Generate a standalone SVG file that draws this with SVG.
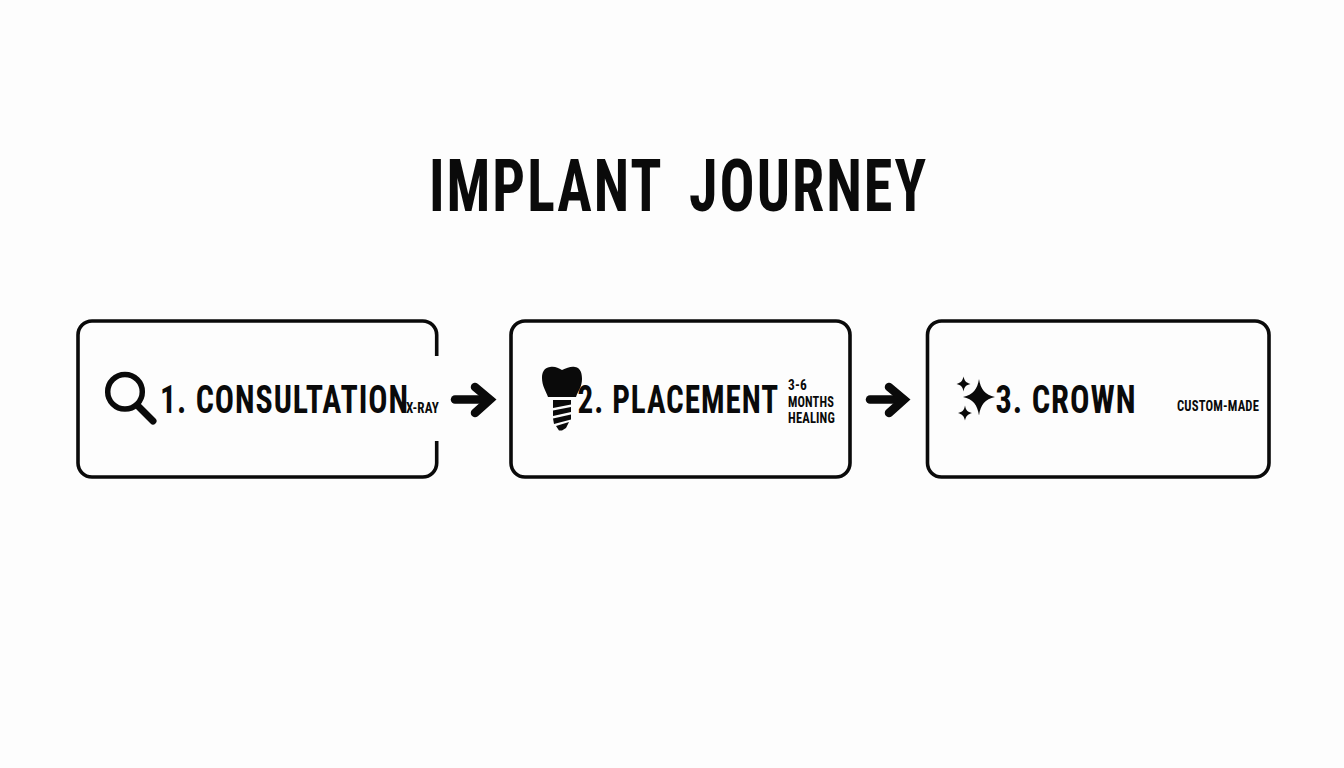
<svg xmlns="http://www.w3.org/2000/svg" width="1344" height="768" viewBox="0 0 1344 768">
<style>
text{font-family:"Liberation Sans Narrow","Roboto Condensed","Liberation Sans",sans-serif;font-weight:700;fill:#0a0a0a}
.title{font-size:73px;letter-spacing:2.500px}
.box{fill:none;stroke:#0a0a0a;stroke-width:3.6;stroke-linecap:butt}
.main{font-size:39.500px;letter-spacing:1.200px}
.sub{font-size:15.500px;letter-spacing:.2px}
.ar{fill:none;stroke:#0a0a0a;stroke-width:8.500;stroke-linecap:round;stroke-linejoin:miter}
.ic{fill:#0a0a0a;stroke:none}
</style>
<rect width="1344" height="768" fill="#fdfdfd"/>
<text id="title" class="title" y="211"><tspan x="429" textLength="233" lengthAdjust="spacingAndGlyphs">IMPLANT</tspan> <tspan x="689" textLength="239" lengthAdjust="spacingAndGlyphs">JOURNEY</tspan></text>
<g id="node-1">
<path class="box" d="M436.700 356V335a14 14 0 0 0-14-14H92a14 14 0 0 0-14 14V463a14 14 0 0 0 14 14H422.700a14 14 0 0 0 14-14V441"/>
<circle cx="125" cy="391.700" r="17.300" fill="none" stroke="#0a0a0a" stroke-width="5.500"/>
<line x1="139" y1="407" x2="153" y2="421" stroke="#0a0a0a" stroke-width="7" stroke-linecap="round"/>
<text class="main" x="160" y="413" textLength="249" lengthAdjust="spacingAndGlyphs">1. CONSULTATION</text>
<text class="sub" x="406" y="413" textLength="33" lengthAdjust="spacingAndGlyphs">X-RAY</text>
</g>
<g id="node-2">
<rect class="box" x="511" y="321" width="339" height="156" rx="14"/>
<path class="ic" d="M550 367C555 366 558 368 562 370C567 368 571 366 575 367C581 368 582 374 582 379C582 387 578 391 576 397H548C546 391 542 386 542 378C542 372 544 368 550 367Z"/>
<path class="ic" d="M553 400H571V404.500L553 408ZM553 410.500L571 407V412L553 416ZM553 418.500L571 414.500V419.500L554 424ZM556 426L569 422L566 428L562 430.500H559Z"/>
<text class="main" x="577.500" y="413" textLength="201.500" lengthAdjust="spacingAndGlyphs">2. PLACEMENT</text>
<text class="sub" x="788" y="390" textLength="19" lengthAdjust="spacingAndGlyphs">3-6</text>
<text class="sub" x="788" y="407" textLength="46" lengthAdjust="spacingAndGlyphs">MONTHS</text>
<text class="sub" x="788" y="423" textLength="47" lengthAdjust="spacingAndGlyphs">HEALING</text>
</g>
<g id="node-3">
<rect class="box" x="927.500" y="321" width="341.500" height="156" rx="14"/>
<path class="ic" d="M979 379C980.500 389 985 395 995 397C985 399 980.500 405 979 415.500C977.500 405 973 399 963 397C973 395 977.500 389 979 379Z"/>
<path class="ic" d="M963.500 376.500C964.500 381 966 382.500 970.500 384C966 385 964.500 386.500 963.500 391.500C962.500 386.500 961 385 956.500 384C961 382.500 962.500 381 963.500 376.500Z"/>
<path class="ic" d="M965 405.500C966 410.500 967.500 412 972 413C967.500 414.500 966 416 965 420.500C964 416 962.500 414.500 958 413C962.500 412 964 410.500 965 405.500Z"/>
<text class="main" x="995.500" y="413" textLength="141" lengthAdjust="spacingAndGlyphs">3. CROWN</text>
<text class="sub" x="1177" y="411" textLength="82" lengthAdjust="spacingAndGlyphs">CUSTOM-MADE</text>
</g>
<g id="connectors">
<path class="ar" d="M455 399.500H488"/>
<path class="ar" d="M475 387L490 399.500L475 413"/>
<path class="ar" d="M870 399.500H903"/>
<path class="ar" d="M889 387L904 399.500L889 413"/>
</g>
</svg>
